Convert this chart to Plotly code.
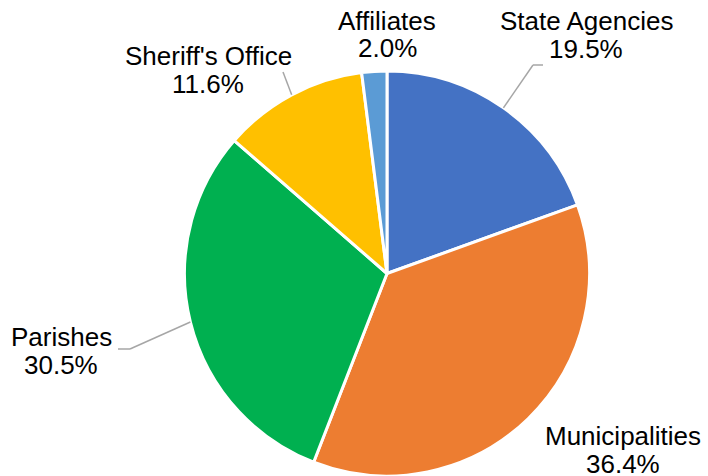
import math
import plotly.graph_objects as go

# ---- data ----
labels = ["State Agencies", "Municipalities", "Parishes", "Sheriff's Office", "Affiliates"]
values = [19.5, 36.4, 30.5, 11.6, 2.0]
colors = ["#4472C4", "#ED7D31", "#00B050", "#FFC000", "#5B9BD5"]

# ---- layout (pixels) ----
W, H = 708, 476
CX, CY, R = 387.0, 273.5, 202.5
# label centre positions (name line, percent line share x)
label_pos = {
    "State Agencies": (586, 21, 49),
    "Municipalities": (623, 436, 464),
    "Parishes": (61, 337, 365),
    "Sheriff's Office": (208, 56, 84),
    "Affiliates": (387, 21, 48),
}
leaders = {
    "State Agencies": [(533, 65), (543, 65)],
    "Parishes": [(130, 349), (118, 349)],
    "Sheriff's Office": [(283, 72)],
}

def px(x):
    return x / W

def py(y):
    return 1 - y / H

fig = go.Figure(go.Pie(
    labels=labels, values=values, sort=False, direction="clockwise", rotation=0,
    marker=dict(colors=colors, line=dict(color="white", width=3)),
    textinfo="none", hoverinfo="label+percent", showlegend=False,
    domain=dict(x=[px(CX - R), px(CX + R)], y=[0, py(CY - R)]),
))

annotations = []
shapes = []
total = sum(values)
cum = 0.0
for lab, v in zip(labels, values):
    mid = (cum + v / 2) / total * 2 * math.pi
    cum += v
    x0 = CX + R * math.sin(mid)
    y0 = CY - R * math.cos(mid)
    lx, ny, pyy = label_pos[lab]
    pct = f"{v / total * 100:.1f}%"
    for txt, yy in ((lab, ny), (pct, pyy)):
        annotations.append(dict(
            text=txt, x=px(lx), y=py(yy), xref="paper", yref="paper",
            xanchor="center", yanchor="middle", showarrow=False,
            font=dict(family="Liberation Sans, Arial", size=26, color="black"),
        ))
    if lab in leaders:
        pts = [(x0, y0)] + leaders[lab]
        for (a, b), (c, d) in zip(pts[:-1], pts[1:]):
            shapes.append(dict(type="line", xref="paper", yref="paper",
                               x0=px(a), y0=py(b), x1=px(c), y1=py(d),
                               line=dict(color="#A6A6A6", width=1.5)))

fig.update_layout(
    width=W, height=H, margin=dict(l=0, r=0, t=0, b=0),
    paper_bgcolor="white", plot_bgcolor="white",
    annotations=annotations, shapes=shapes,
)
fig.write_html("out.html")
